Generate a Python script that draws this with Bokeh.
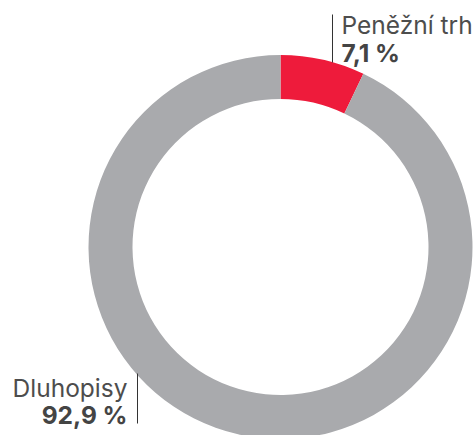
import math
from bokeh.plotting import figure
from bokeh.models import Range1d, ColumnDataSource
from bokeh.core.properties import value
from bokeh.embed import file_html
from bokeh.resources import INLINE

categories = ["Peněžní trh", "Dluhopisy"]
shares = [7.1, 92.9]
colors = ["#EE1B3B", "#A9AAAD"]

W, H = 475, 435
p = figure(width=W, height=H, output_backend="svg", toolbar_location=None,
           x_range=Range1d(0, W), y_range=Range1d(0, H),
           min_border=0, outline_line_color=None)
p.axis.visible = False
p.grid.visible = False
p.background_fill_color = "white"
p.border_fill_color = "white"

def Y(sy):
    return H - sy

cx, cy = 280, Y(246.5)
total = sum(shares)
starts, ends = [], []
cum = 0.0
for s in shares:
    a0 = math.pi / 2 - 2 * math.pi * cum / total
    cum += s
    a1 = math.pi / 2 - 2 * math.pi * cum / total
    starts.append(a1)
    ends.append(a0)

src = ColumnDataSource(dict(x=[cx] * len(shares), y=[cy] * len(shares),
                            start=starts, end=ends, color=colors))
p.annular_wedge(x="x", y="y", inner_radius=148, outer_radius=192,
                inner_radius_units="screen", outer_radius_units="screen",
                start_angle="start", end_angle="end", direction="anticlock",
                fill_color="color", line_color=None, source=src)

def fmt(v):
    return f"{v:.1f}".replace(".", ",") + " %"

font = value("Inter")
txt_col = "#4D4D4D"
fs = "24.5px"
dy = -8  # text offset correction
# Top label (Peněžní trh)
p.segment(x0=[332], y0=[Y(14)], x1=[332], y1=[Y(62)], line_color="#333333", line_width=1)
p.text(x=[341], y=[Y(32 + dy)], text=[categories[0]], text_font=font, text_font_size=fs,
       text_color=txt_col, text_baseline="alphabetic", text_align="left")
p.text(x=[341], y=[Y(60 + dy)], text=[fmt(shares[0])], text_font=font, text_font_size=fs,
       text_font_style="bold", text_color="#444444", text_baseline="alphabetic", text_align="left")
# Bottom label (Dluhopisy)
p.segment(x0=[137], y0=[Y(373)], x1=[137], y1=[Y(423)], line_color="#333333", line_width=1)
p.text(x=[127], y=[Y(395 + dy)], text=[categories[1]], text_font=font, text_font_size=fs,
       text_color=txt_col, text_baseline="alphabetic", text_align="right")
p.text(x=[127], y=[Y(422 + dy)], text=[fmt(shares[1])], text_font=font, text_font_size=fs,
       text_font_style="bold", text_color="#444444", text_baseline="alphabetic", text_align="right")

open("out.html", "w").write(file_html(p, INLINE))
